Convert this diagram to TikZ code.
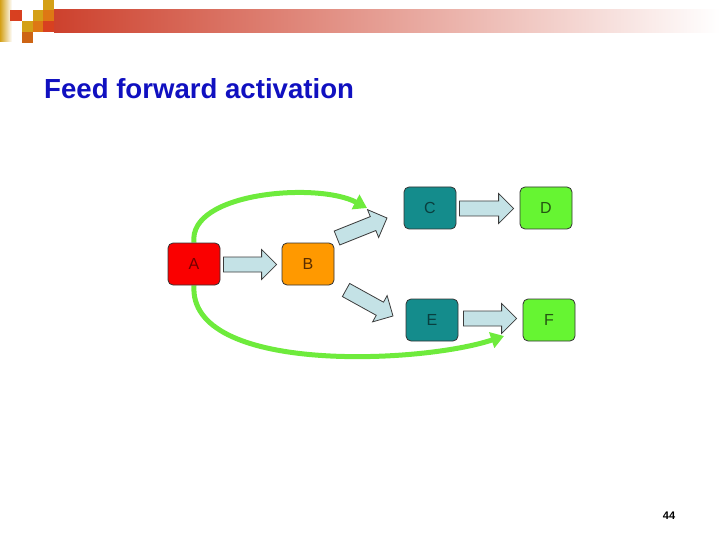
\documentclass[tikz,border=0pt]{standalone}
\usepackage{fontspec}
\setmainfont{Liberation Sans}
\usetikzlibrary{arrows.meta,calc,backgrounds}
\definecolor{titleblue}{RGB}{16,16,192}
\definecolor{boxred}{RGB}{250,0,0}
\definecolor{boxorange}{RGB}{255,153,0}
\definecolor{boxteal}{RGB}{20,140,140}
\definecolor{boxgreen}{RGB}{102,245,50}
\definecolor{arrowfill}{RGB}{196,226,230}
\definecolor{arrowline}{RGB}{60,60,60}
\definecolor{curvegreen}{RGB}{110,235,60}
\definecolor{barred}{RGB}{205,65,45}
\definecolor{sqgold}{RGB}{212,160,23}
\definecolor{sqorange}{RGB}{222,120,20}
\definecolor{sqred}{RGB}{216,64,32}
\definecolor{sqbrown}{RGB}{205,100,20}
\tikzset{
  box/.style={draw=black!80, line width=0.8pt, rounded corners=5pt,
    minimum width=52pt, minimum height=42pt, inner sep=0pt,
    font=\fontsize{16}{16}\selectfont},
  blk/.style={draw=arrowline, fill=arrowfill, line width=0.8pt, line join=miter},
  feed/.style={draw=curvegreen, line width=5pt,
    -{Triangle[length=13pt,width=16pt]}},
}
\newcommand{\blk}[2]{%
  \path let \p1=(#1), \p2=(#2) in \pgfextra{%
    \pgfmathsetmacro\tmpa{atan2(\y2-\y1,\x2-\x1)}%
    \pgfmathsetmacro\tmpb{veclen(\x2-\x1,\y2-\y1)}%
    \xdef\blkang{\tmpa}\xdef\blklen{\tmpb}};
  \draw[blk,shift={(#1)},rotate=\blkang] (0,-7.5) -- (\blklen-15,-7.5) -- (\blklen-15,-15)
    -- (\blklen,0) -- (\blklen-15,15) -- (\blklen-15,7.5) -- (0,7.5) -- cycle;
}
\begin{document}
\begin{tikzpicture}[x=1pt,y=-1pt]
\useasboundingbox (0,0) rectangle (720,540);
% header decoration
\shade[left color=sqgold, right color=white] (0,0) rectangle (12,42);
\shade[left color=barred, right color=white] (54,10) rectangle (720,33);
\fill[sqred] (10,10) rectangle (22,21);
\fill[sqgold] (43,0) rectangle (54,10);
\fill[sqgold] (33,10) rectangle (43,21);
\fill[sqorange] (43,10) rectangle (54,21);
\fill[sqgold] (22,21) rectangle (33,32);
\fill[sqorange] (33,21) rectangle (43,32);
\fill[sqred] (43,21) rectangle (54,32);
\fill[sqbrown] (22,32) rectangle (33,43);
% title
\node[anchor=base west, inner sep=0pt, text=titleblue,
  font=\fontsize{27.6}{27.6}\selectfont\bfseries] (title) at (44,99) {Feed forward activation};
% boxes
\node[box, fill=boxred, text=red!45!black] (A) at (194,264) {A};
\node[box, fill=boxorange, text=orange!35!black] (B) at (308,264) {B};
\node[box, fill=boxteal, text=boxteal!45!black] (C) at (430,208) {C};
\node[box, fill=boxgreen, text=boxgreen!35!black] (D) at (546,208) {D};
\node[box, fill=boxteal, text=boxteal!45!black] (E) at (432,320) {E};
\node[box, fill=boxgreen, text=boxgreen!35!black] (F) at (549,320) {F};
% block arrows
\coordinate (ab0) at ($(A.east)+(3,0.5)$);
\coordinate (ab1) at ($(B.west)+(-5,0.5)$);
\coordinate (cd0) at ($(C.east)+(3,0.5)$);
\coordinate (cd1) at ($(D.west)+(-6,0.5)$);
\coordinate (ef0) at ($(E.east)+(5,-1.5)$);
\coordinate (ef1) at ($(F.west)+(-6,-1.5)$);
\coordinate (bc0) at (337,238);
\coordinate (bc1) at (387,218);
\coordinate (be0) at (346,290);
\coordinate (be1) at (393,316);
\blk{ab0}{ab1}
\blk{cd0}{cd1}
\blk{ef0}{ef1}
\blk{bc0}{bc1}
\blk{be0}{be1}
% feed-forward curves
\coordinate (up1) at (367,208);
\coordinate (lo1) at (504,336);
\begin{scope}[on background layer]
\draw[feed] (A.north) .. controls (188,192) and (318,182) .. (up1);
\draw[feed] (A.south) .. controls (188,374) and (420,364) .. (lo1);
\end{scope}
% page number
\node[inner sep=0pt, font=\fontsize{11}{11}\selectfont\bfseries] (page) at (669,516) {44};
\end{tikzpicture}
\end{document}
